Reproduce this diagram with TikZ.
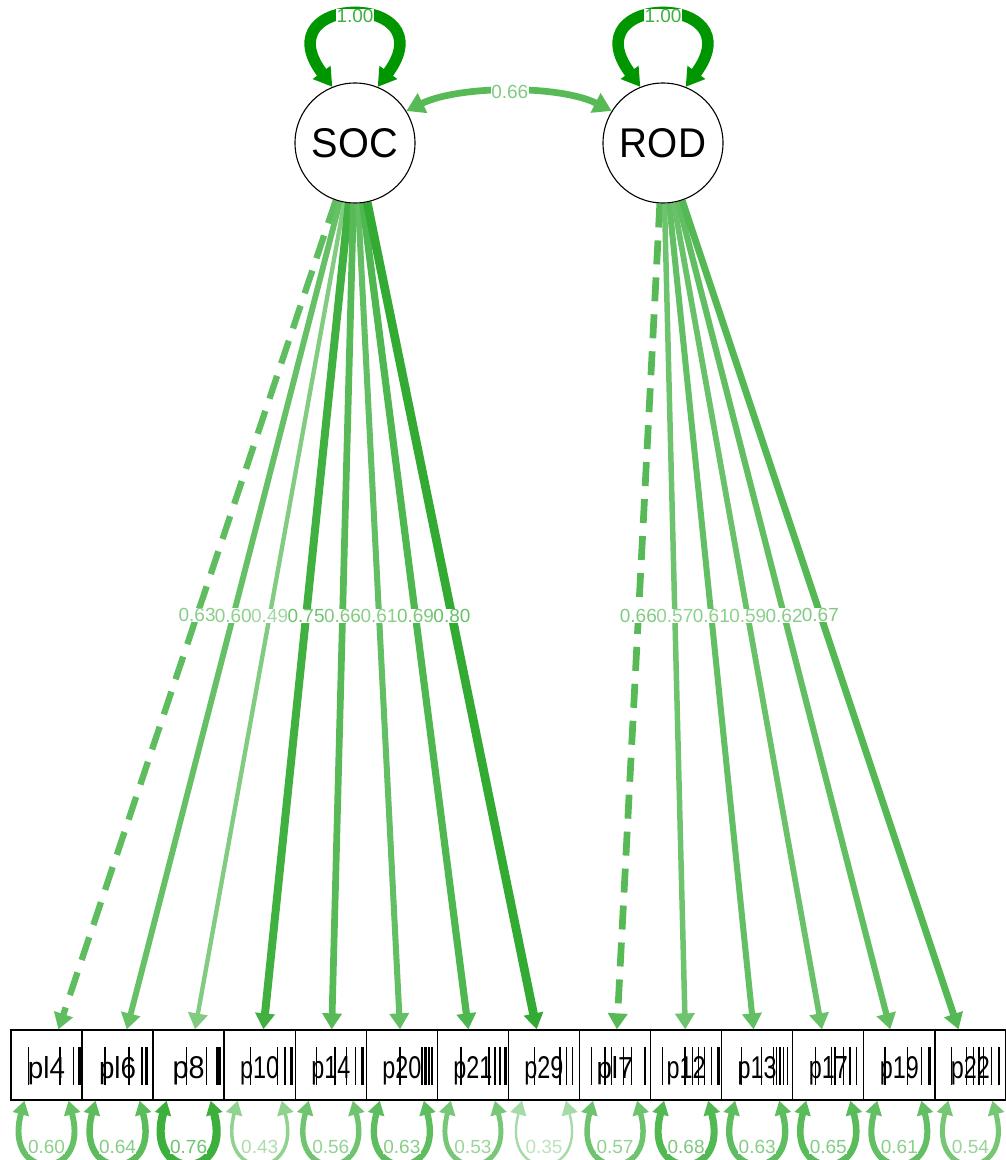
\documentclass[tikz,border=0pt]{standalone}
\usepackage{fontspec}
\setmainfont{Liberation Sans}
\usepackage{graphicx}
\usetikzlibrary{arrows.meta}
\definecolor{sg}{RGB}{0,150,0}
\pgfdeclarelayer{edges}
\pgfdeclarelayer{elabels}
\pgfsetlayers{edges,elabels,main}
\begin{document}
\begin{tikzpicture}[x=1pt,y=-1pt,
  lat/.style={circle,draw,line width=1.1pt,minimum size=120pt,inner sep=0pt,fill=white},
  obs/.style={rectangle,draw,line width=1.3pt,minimum width=71pt,minimum height=70pt,inner sep=0pt,fill=white},
  wt/.style={line width={0.14pt*#1-2.5pt}, draw=sg!#1!white},
  elab/.style={fill=white,inner sep=0.3pt,text=sg!#1!white!75!white,
    font=\fontsize{19}{19}\selectfont},
  ldtip/.style={-{Triangle[width=19pt,length=16pt]}},
  lptip/.style={{Triangle[width=21pt,length=18pt]}-{Triangle[width=21pt,length=18pt]}},
  rstip/.style={{Triangle[width=16pt,length=14pt]}-{Triangle[width=16pt,length=14pt]}},
  fixed/.style={dash pattern=on 24pt off 13pt},
  bar/.style={line width=#1pt,black}
]
\useasboundingbox (0,0) rectangle (1005,1160);

% latent variables
\node[lat] (SOC) at (355,143) {\resizebox{86pt}{29pt}{SOC}};
\node[lat] (ROD) at (663,143) {\resizebox{86pt}{29pt}{ROD}};

% observed indicators
\foreach \i/\lab/\lw in {0/pl4/37,1/pl6/37,2/p8/32,3/p10/39,4/p14/39,5/p20/39,6/p21/39,7/p29/39,
                     8/pl7/37,9/p12/39,10/p13/39,11/p17/39,12/p19/39,13/p22/39}{
  \pgfmathsetmacro\cx{46.5+71.07*\i}
  \node[obs] (b\i) at (\cx,1065) {};
  \node[anchor=base,inner sep=0pt] (t\i) at (\cx,1078) {\resizebox{\lw pt}{22pt}{\lab}};
}

% threshold marks
\foreach \x/\w in {28.3/1.2,60/1.2,73.3/1.2,79/3,
  105/1.2,129/1.2,141.7/2.2,146.7/3,
  186.7/1.2,206.7/1.2,218.5/5,
  250.7/1.2,277.3/1.2,285/1.2,291.7/3,
  316.7/1.2,335/1.2,346.7/1.2,355.7/1.2,362.3/3,
  400/1.2,422/2.5,425.5/2.5,429/2.5,432/2.5,
  461/1.2,489/1.2,495/1.2,500/1.2,505.7/2.5,
  534.3/1.2,560/1.2,566.7/1.2,572.7/1.2,
  591.7/1.2,605/1.2,611.7/1.2,623.3/1.2,631.7/1.2,645/1.2,
  662.3/1.2,685/1.2,692.7/1.2,698.3/1.2,704.3/1.2,711.7/1.2,718.3/2.5,
  741.7/1.2,761.7/1.2,773.3/1.2,776.7/1.2,780/1.2,783.3/1.2,787.7/1.2,
  815.7/1.2,831.7/1.2,835/1.2,843.3/1.2,850/1.2,856.7/1.2,
  885/1.2,907.7/1.2,921.7/1.2,929/3,
  951.7/1.2,966.7/1.2,973.3/1.2,979/1.2,983.3/1.2,991.7/1.2,999/1.2}{
  \draw[bar=\w] (\x,1047) -- (\x,1085);
}

\begin{pgfonlayer}{edges}
  % variances of the latent variables
  \draw[wt=100,lptip] (SOC.112) .. controls (262,-8) and (448,-8) .. coordinate[pos=.5] (vS) (SOC.68);
  \draw[wt=100,lptip] (ROD.112) .. controls (570,-8) and (756,-8) .. coordinate[pos=.5] (vR) (ROD.68);
  % covariance
  \draw[wt=66,lptip] (SOC.32) .. controls (460,85) and (560,85) .. coordinate[pos=.5] (cv) (ROD.148);
  % loadings
  \draw[wt=63,ldtip,fixed] (SOC) -- coordinate[pos=.5] (m0) (b0);
  \foreach \i/\v in {1/60,2/49,3/75,4/66,5/61,6/69,7/80}{
    \draw[wt=\v,ldtip] (SOC) -- coordinate[pos=.5] (m\i) (b\i);
  }
  \draw[wt=66,ldtip,fixed] (ROD) -- coordinate[pos=.5] (m8) (b8);
  \foreach \i/\v in {9/57,10/61,11/59,12/62,13/67}{
    \draw[wt=\v,ldtip] (ROD) -- coordinate[pos=.5] (m\i) (b\i);
  }
  % residual variances
  \foreach \i/\r in {0/60,1/64,2/76,3/43,4/56,5/63,6/53,7/35,
                     8/57,9/68,10/63,11/65,12/61,13/54}{
    \pgfmathsetmacro\cx{46.5+71.07*\i}
    \draw[wt=\r,rstip] ([xshift=-22pt]b\i.south) .. controls (\cx-44,1182) and (\cx+44,1182) .. ([xshift=22pt]b\i.south);
  }
\end{pgfonlayer}

\begin{pgfonlayer}{elabels}
  \node[elab=100] at (vS) {1.00};
  \node[elab=100] at (vR) {1.00};
  \node[elab=66] at (cv) {0.66};
  \foreach \i/\v in {0/63,1/60,2/49,3/75,4/66,5/61,6/69,7/80,
                     8/66,9/57,10/61,11/59,12/62,13/67}{
    \node[elab=\v] at (m\i) {0.\v};
  }
  \foreach \i/\r in {0/60,1/64,2/76,3/43,4/56,5/63,6/53,7/35,
                     8/57,9/68,10/63,11/65,12/61,13/54}{
    \pgfmathsetmacro\cx{46.5+71.07*\i}
    \node[elab=\r] at (\cx,1147) {0.\r};
  }
\end{pgfonlayer}
\end{tikzpicture}
\end{document}
